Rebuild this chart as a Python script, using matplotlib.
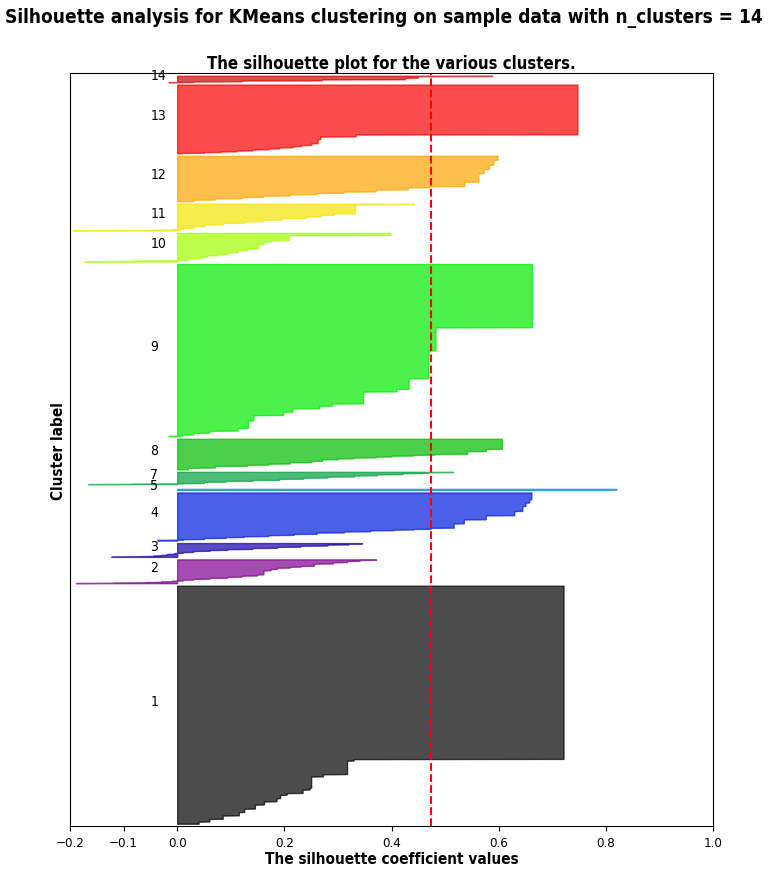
"""
silhouette_plot.py - silhouette plot for KMeans clustering, n_clusters = 14

Rebuilds each cluster's sorted silhouette profile from step values read
off the chart (value, number of samples) and saves the figure to out.png.
"""

import matplotlib
matplotlib.use("Agg")
import matplotlib.cm as cm
import matplotlib.pyplot as plt
import numpy as np

plt.rcParams.update({
    "font.family": ["DejaVu Sans"],
    "font.stretch": "condensed",
})

N_CLUSTERS = 14
SILHOUETTE_AVG = 0.474

# Sorted silhouette values per cluster (ascending), stored as steps:
# the value and how many samples sit at that value
C1_VALUES = [0.04, 0.06, 0.085, 0.115, 0.125, 0.145, 0.162, 0.185, 0.192,
             0.204, 0.234, 0.247, 0.250, 0.272, 0.317, 0.329, 0.721]
C1_COUNTS = [10, 12, 15, 15, 15, 18, 14, 14, 15, 8, 15, 8, 50, 10, 60, 7, 765]

C2_VALUES = [-0.189, -0.12, -0.06, -0.03, -0.01, 0.01, 0.03, 0.06, 0.093,
             0.12, 0.149, 0.161, 0.174, 0.186, 0.21, 0.23, 0.255, 0.29,
             0.317, 0.34, 0.371]
C2_COUNTS = [2, 2, 2, 3, 3, 4, 4, 4, 5, 5, 5, 18, 6, 6, 4, 4, 10, 6, 6, 4, 3]

C3_VALUES = [-0.123, -0.08, -0.045, -0.03, -0.019, -0.005, 0.01, 0.03, 0.06,
             0.093, 0.14, 0.186, 0.23, 0.28, 0.32, 0.345]
C3_COUNTS = [2, 2, 3, 3, 4, 4, 4, 5, 4, 4, 5, 5, 5, 5, 4, 3]

C4_VALUES = [-0.037, 0.01, 0.05, 0.09, 0.124, 0.17, 0.217, 0.26, 0.311,
             0.36, 0.404, 0.44, 0.473, 0.516, 0.535, 0.576, 0.629, 0.644,
             0.650, 0.657, 0.661]
C4_COUNTS = [4, 3, 5, 4, 4, 5, 5, 6, 5, 5, 3, 3, 5, 19, 18, 18, 19, 22,
             15, 15, 30]

C5_VALUES = [0.81, 0.82]
C5_COUNTS = [2, 4]

C6_VALUES = []
C6_COUNTS = []

C7_VALUES = [-0.166, -0.085, 0.01, 0.05, 0.09, 0.14, 0.19, 0.235, 0.28,
             0.33, 0.373, 0.42, 0.467, 0.515]
C7_COUNTS = [1, 2, 2, 6, 4, 4, 5, 5, 5, 5, 5, 5, 4, 2]

C8_VALUES = [0.02, 0.07, 0.13, 0.17, 0.21, 0.25, 0.27, 0.30, 0.33, 0.37,
             0.40, 0.44, 0.48, 0.541, 0.576, 0.606]
C8_COUNTS = [8, 8, 5, 5, 6, 6, 7, 4, 4, 4, 4, 4, 4, 12, 10, 45]

C9_VALUES = [-0.016, 0.01, 0.03, 0.06, 0.112, 0.132, 0.142, 0.198, 0.215,
             0.265, 0.289, 0.347, 0.409, 0.432, 0.469, 0.482, 0.662]
C9_COUNTS = [3, 5, 8, 9, 12, 33, 24, 15, 15, 11, 10, 53, 12, 46, 123, 102, 280]

C10_VALUES = [-0.173, -0.08, 0.0, 0.02, 0.045, 0.055, 0.075, 0.093, 0.112,
              0.13, 0.15, 0.161, 0.174, 0.208, 0.398]
C10_COUNTS = [2, 3, 3, 8, 6, 6, 6, 7, 10, 7, 20, 10, 7, 22, 10]

C11_VALUES = [-0.195, -0.05, -0.01, 0.01, 0.03, 0.05, 0.085, 0.125, 0.16,
              0.195, 0.24, 0.267, 0.292, 0.332, 0.442]
C11_COUNTS = [2, 2, 2, 6, 7, 8, 7, 7, 7, 7, 7, 7, 7, 40, 3]

C12_VALUES = [0.03, 0.07, 0.12, 0.16, 0.21, 0.26, 0.31, 0.37, 0.43, 0.47,
              0.536, 0.562, 0.572, 0.582, 0.590, 0.598]
C12_COUNTS = [7, 6, 6, 6, 6, 6, 6, 9, 9, 6, 19, 38, 18, 19, 22, 18]

C13_VALUES = [0.01, 0.05, 0.08, 0.11, 0.14, 0.17, 0.19, 0.215, 0.23, 0.25,
              0.262, 0.267, 0.333, 0.747]
C13_COUNTS = [3, 3, 3, 4, 5, 4, 5, 5, 5, 8, 18, 12, 9, 220]

C14_VALUES = [-0.016, 0.03, 0.12, 0.269, 0.425, 0.449, 0.588]
C14_COUNTS = [1, 3, 4, 5, 7, 7, 2]

# Label drawn next to each cluster (the "6" label is not shown in the chart)
CLUSTER_LABELS = ["1", "2", "3", "4", "5", "", "7", "8", "9", "10",
                  "11", "12", "13", "14"]

X_TICKS = [-0.2, -0.1, 0.0, 0.2, 0.4, 0.6, 0.8, 1.0]


def main(out_path: str = "out.png") -> None:
    clusters = [
        (C1_VALUES, C1_COUNTS), (C2_VALUES, C2_COUNTS),
        (C3_VALUES, C3_COUNTS), (C4_VALUES, C4_COUNTS),
        (C5_VALUES, C5_COUNTS), (C6_VALUES, C6_COUNTS),
        (C7_VALUES, C7_COUNTS), (C8_VALUES, C8_COUNTS),
        (C9_VALUES, C9_COUNTS), (C10_VALUES, C10_COUNTS),
        (C11_VALUES, C11_COUNTS), (C12_VALUES, C12_COUNTS),
        (C13_VALUES, C13_COUNTS), (C14_VALUES, C14_COUNTS),
    ]

    fig = plt.figure(figsize=(7.68, 8.70), dpi=100)
    ax = fig.add_axes([70 / 768, 1 - 827 / 870, 643 / 768, 752.7 / 870])

    n_samples = sum(sum(c) for _, c in clusters)
    y_lower = 10
    for i, (vals, counts) in enumerate(clusters):
        sil = np.repeat(np.asarray(vals, dtype=float), np.asarray(counts, dtype=int))
        size = len(sil)
        y_upper = y_lower + size
        color = cm.nipy_spectral(float(i) / N_CLUSTERS)
        if size:
            ax.fill_betweenx(np.arange(y_lower, y_upper), 0, sil,
                             facecolor=color, edgecolor=color, alpha=0.7)
        if CLUSTER_LABELS[i]:
            ax.text(-0.05, y_lower + 0.5 * size, CLUSTER_LABELS[i], fontsize=10)
        y_lower = y_upper + 10

    # average silhouette score of all the samples
    ax.axvline(x=SILHOUETTE_AVG, color="red", linestyle="--", lw=1.5)

    ax.set_xlim(-0.2, 1.0)
    ax.set_ylim(0, n_samples + (N_CLUSTERS + 1) * 10)
    ax.set_yticks([])
    ax.set_xticks(X_TICKS)
    ax.tick_params(axis="x", labelsize=9.5)

    ax.set_title("The silhouette plot for the various clusters.",
                 fontsize=12, fontweight="bold", pad=4)
    ax.set_xlabel("The silhouette coefficient values", fontsize=11,
                  fontweight="bold", labelpad=1.5)
    ax.set_ylabel("Cluster label", fontsize=11, fontweight="bold", labelpad=3)

    fig.suptitle("Silhouette analysis for KMeans clustering on sample data "
                 "with n_clusters = 14", fontsize=13.7, fontweight="bold", y=0.991)

    fig.savefig(out_path, dpi=100, facecolor="white")
    plt.close(fig)


if __name__ == "__main__":
    main()
